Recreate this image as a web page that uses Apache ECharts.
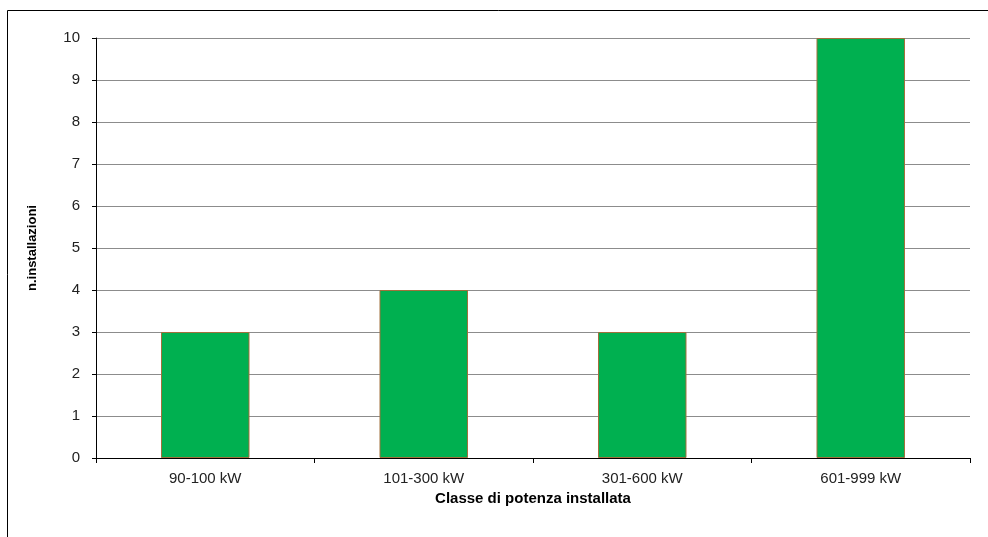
<!DOCTYPE html>
<html>
<head>
<meta charset="utf-8">
<script src="https://cdn.jsdelivr.net/npm/echarts@6/dist/echarts.min.js"></script>
<style>
  html, body { margin: 0; padding: 0; background: #fff; }
  #chart { width: 988px; height: 537px; }
</style>
</head>
<body>
<div id="chart"></div>
<script>
// Installazioni per classe di potenza
const categories = ['90-100 kW', '101-300 kW', '301-600 kW', '601-999 kW'];
const installazioni = [3, 4, 3, 10];
const yTicks = [0, 1, 2, 3, 4, 5, 6, 7, 8, 9, 10];

const chart = echarts.init(document.getElementById('chart'), null, { renderer: 'canvas' });
const font = 'Arial, "Liberation Sans", sans-serif';

chart.setOption({
  animation: false,
  backgroundColor: '#ffffff',
  graphic: [{
    type: 'rect',
    shape: { x: 7.5, y: 10.5, width: 1100, height: 700 },
    style: { fill: 'none', stroke: '#000', lineWidth: 1 },
    silent: true
  }],
  grid: { left: 96, right: 18, top: 38, bottom: 79, containLabel: false },
  xAxis: {
    type: 'category',
    data: categories,
    name: 'Classe di potenza installata',
    nameLocation: 'middle',
    nameGap: 32,
    nameTextStyle: { fontFamily: font, fontSize: 15, fontWeight: 'bold', color: '#000' },
    axisLine: { lineStyle: { color: '#000', width: 1 } },
    axisTick: { show: true, alignWithLabel: false, length: 5, lineStyle: { color: '#000' } },
    axisLabel: { fontFamily: font, fontSize: 15, color: '#222', margin: 13 }
  },
  yAxis: {
    type: 'value',
    min: yTicks[0],
    max: yTicks[yTicks.length - 1],
    interval: 1,
    name: 'n.installazioni',
    nameLocation: 'middle',
    nameGap: 57,
    nameTextStyle: { fontFamily: font, fontSize: 13, fontWeight: 'bold', color: '#000' },
    axisLine: { show: true, lineStyle: { color: '#000', width: 1 } },
    axisTick: { show: true, length: 4, lineStyle: { color: '#000' } },
    axisLabel: { fontFamily: font, fontSize: 15, color: '#222', margin: 16 },
    splitLine: { show: true, lineStyle: { color: '#8c8c8c', width: 1 } }
  },
  series: [{
    type: 'bar',
    data: installazioni,
    barWidth: '40.5%',
    itemStyle: { color: '#00B050', borderColor: '#a0703c', borderWidth: 1 }
  }]
});
</script>
</body>
</html>
